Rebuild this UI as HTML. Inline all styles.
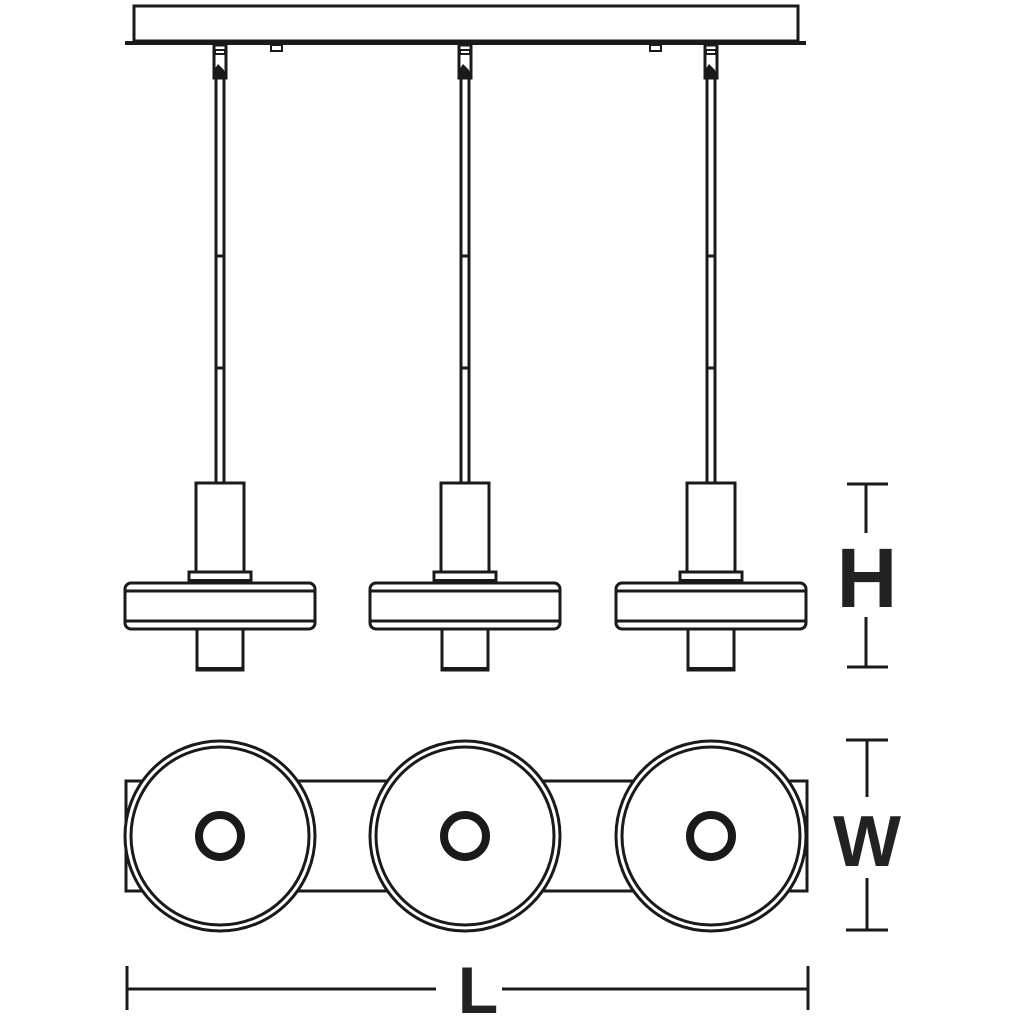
<!DOCTYPE html>
<html><head><meta charset="utf-8"><style>
html,body{margin:0;padding:0;background:#fff;}
svg{display:block;}
text{font-family:"Liberation Sans",sans-serif;font-weight:bold;fill:#222;}
</style></head><body>
<svg width="1024" height="1024" viewBox="0 0 1024 1024" xmlns="http://www.w3.org/2000/svg">
<defs>
<g id="pend" fill="#fff" stroke="#1a1a1a" stroke-width="3">
  <rect x="-6" y="45" width="12" height="33"/>
  <rect x="-5" y="50" width="10" height="4" stroke-width="2"/>
  <path d="M-6 70 L-2 64 L4 70 L6 78 L-6 78 Z" fill="#1a1a1a" stroke="none"/>
  <rect x="-4" y="78" width="8" height="405"/>
  <line x1="-4" y1="256" x2="4" y2="256"/>
  <line x1="-4" y1="368" x2="4" y2="368"/>
  <rect x="-24" y="483" width="48" height="89"/>
  <rect x="-31" y="572" width="62" height="11"/>
  <line x1="-31" y1="581" x2="31" y2="581" stroke-width="4"/>
  <rect x="-23" y="629" width="46" height="41"/>
  <line x1="-23" y1="669" x2="23" y2="669" stroke-width="4"/>
  <rect x="-95" y="583" width="190" height="46" rx="6"/>
  <line x1="-94" y1="591" x2="94" y2="591"/>
  <line x1="-94" y1="621" x2="94" y2="621"/>
</g>
<g id="disc" fill="#fff" stroke="#1a1a1a">
  <circle r="95" stroke-width="3"/>
  <circle r="89" stroke-width="3"/>
  <circle r="21" stroke-width="8"/>
</g>
</defs>
<!-- canopy -->
<rect x="134" y="6" width="664" height="35" fill="#fff" stroke="#1a1a1a" stroke-width="3"/>
<rect x="125" y="41" width="681" height="4" fill="#1a1a1a"/>
<rect x="271" y="45" width="11" height="6" fill="#fff" stroke="#1a1a1a" stroke-width="2"/>
<rect x="650" y="45" width="11" height="6" fill="#fff" stroke="#1a1a1a" stroke-width="2"/>
<use href="#pend" transform="translate(220,0)"/>
<use href="#pend" transform="translate(465,0)"/>
<use href="#pend" transform="translate(711,0)"/>
<!-- bottom view -->
<rect x="126" y="781" width="681" height="110" fill="#fff" stroke="#1a1a1a" stroke-width="3"/>
<use href="#disc" transform="translate(220,836)"/>
<use href="#disc" transform="translate(465,836)"/>
<use href="#disc" transform="translate(711,836)"/>
<!-- dimensions -->
<g stroke="#1a1a1a" stroke-width="3" fill="none">
  <line x1="847" y1="484" x2="888" y2="484"/>
  <line x1="866" y1="484" x2="866" y2="533"/>
  <line x1="866" y1="617" x2="866" y2="667"/>
  <line x1="847" y1="667" x2="888" y2="667"/>
  <line x1="846" y1="740" x2="888" y2="740"/>
  <line x1="867" y1="740" x2="867" y2="797"/>
  <line x1="867" y1="878" x2="867" y2="930"/>
  <line x1="846" y1="930" x2="888" y2="930"/>
  <line x1="127" y1="966" x2="127" y2="1010"/>
  <line x1="127" y1="989" x2="436" y2="989"/>
  <line x1="502" y1="989" x2="808" y2="989"/>
  <line x1="808" y1="966" x2="808" y2="1010"/>
</g>
<text x="867" y="607" font-size="84" text-anchor="middle">H</text>
<text x="867" y="866" font-size="72" text-anchor="middle">W</text>
<text x="478" y="1013" font-size="66" text-anchor="middle">L</text>
</svg>
</body></html>
